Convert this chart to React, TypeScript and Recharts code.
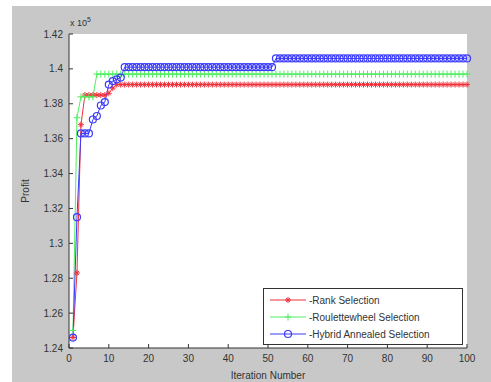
import React from "react"
import { LineChart, Line, XAxis, YAxis, CartesianGrid } from "recharts"

// values shown in units of 10^5
const rankSelection = [
  1.246, 1.283, 1.368, 1.385, 1.385, 1.385, 1.385, 1.385, 1.385, 1.386,
  1.389, 1.391, 1.391, 1.391, 1.391, 1.391, 1.391, 1.391, 1.391, 1.391,
  1.391, 1.391, 1.391, 1.391, 1.391, 1.391, 1.391, 1.391, 1.391, 1.391,
  1.391, 1.391, 1.391, 1.391, 1.391, 1.391, 1.391, 1.391, 1.391, 1.391,
  1.391, 1.391, 1.391, 1.391, 1.391, 1.391, 1.391, 1.391, 1.391, 1.391,
  1.391, 1.391, 1.391, 1.391, 1.391, 1.391, 1.391, 1.391, 1.391, 1.391,
  1.391, 1.391, 1.391, 1.391, 1.391, 1.391, 1.391, 1.391, 1.391, 1.391,
  1.391, 1.391, 1.391, 1.391, 1.391, 1.391, 1.391, 1.391, 1.391, 1.391,
  1.391, 1.391, 1.391, 1.391, 1.391, 1.391, 1.391, 1.391, 1.391, 1.391,
  1.391, 1.391, 1.391, 1.391, 1.391, 1.391, 1.391, 1.391, 1.391, 1.391,
]

const rouletteSelection = [
  1.250, 1.372, 1.384, 1.384, 1.384, 1.384, 1.397, 1.397, 1.397, 1.397,
  1.397, 1.397, 1.397, 1.397, 1.397, 1.397, 1.397, 1.397, 1.397, 1.397,
  1.397, 1.397, 1.397, 1.397, 1.397, 1.397, 1.397, 1.397, 1.397, 1.397,
  1.397, 1.397, 1.397, 1.397, 1.397, 1.397, 1.397, 1.397, 1.397, 1.397,
  1.397, 1.397, 1.397, 1.397, 1.397, 1.397, 1.397, 1.397, 1.397, 1.397,
  1.397, 1.397, 1.397, 1.397, 1.397, 1.397, 1.397, 1.397, 1.397, 1.397,
  1.397, 1.397, 1.397, 1.397, 1.397, 1.397, 1.397, 1.397, 1.397, 1.397,
  1.397, 1.397, 1.397, 1.397, 1.397, 1.397, 1.397, 1.397, 1.397, 1.397,
  1.397, 1.397, 1.397, 1.397, 1.397, 1.397, 1.397, 1.397, 1.397, 1.397,
  1.397, 1.397, 1.397, 1.397, 1.397, 1.397, 1.397, 1.397, 1.397, 1.397,
]

const hybridSelection = [
  1.246, 1.315, 1.363, 1.363, 1.363, 1.371, 1.373, 1.379, 1.381, 1.391,
  1.393, 1.394, 1.395, 1.401, 1.401, 1.401, 1.401, 1.401, 1.401, 1.401,
  1.401, 1.401, 1.401, 1.401, 1.401, 1.401, 1.401, 1.401, 1.401, 1.401,
  1.401, 1.401, 1.401, 1.401, 1.401, 1.401, 1.401, 1.401, 1.401, 1.401,
  1.401, 1.401, 1.401, 1.401, 1.401, 1.401, 1.401, 1.401, 1.401, 1.401,
  1.401, 1.406, 1.406, 1.406, 1.406, 1.406, 1.406, 1.406, 1.406, 1.406,
  1.406, 1.406, 1.406, 1.406, 1.406, 1.406, 1.406, 1.406, 1.406, 1.406,
  1.406, 1.406, 1.406, 1.406, 1.406, 1.406, 1.406, 1.406, 1.406, 1.406,
  1.406, 1.406, 1.406, 1.406, 1.406, 1.406, 1.406, 1.406, 1.406, 1.406,
  1.406, 1.406, 1.406, 1.406, 1.406, 1.406, 1.406, 1.406, 1.406, 1.406,
]

const xTicks = [0, 10, 20, 30, 40, 50, 60, 70, 80, 90, 100]
const yTicks = [1.24, 1.26, 1.28, 1.3, 1.32, 1.34, 1.36, 1.38, 1.4, 1.42]

const RED = "#f0303a"
const GREEN = "#50ee60"
const BLUE = "#3a3aff"
const AXIS = "#333"
const FONT = "'Liberation Sans', Arial, sans-serif"

const data = rankSelection.map((v, i) => ({
  iter: i + 1,
  rank: v,
  roulette: rouletteSelection[i],
  hybrid: hybridSelection[i],
}))

const StarDot = (props: any) => {
  const { cx, cy, index } = props
  if (cx == null || cy == null) return <g key={index} />
  return (
    <g key={index} stroke={RED} strokeWidth={1}>
      <line x1={cx - 3} y1={cy} x2={cx + 3} y2={cy} />
      <line x1={cx} y1={cy - 3} x2={cx} y2={cy + 3} />
      <line x1={cx - 2} y1={cy - 2} x2={cx + 2} y2={cy + 2} />
      <line x1={cx - 2} y1={cy + 2} x2={cx + 2} y2={cy - 2} />
    </g>
  )
}

const PlusDot = (props: any) => {
  const { cx, cy, index } = props
  if (cx == null || cy == null) return <g key={index} />
  return (
    <g key={index} stroke={GREEN} strokeWidth={1}>
      <line x1={cx - 3.5} y1={cy} x2={cx + 3.5} y2={cy} />
      <line x1={cx} y1={cy - 3.5} x2={cx} y2={cy + 3.5} />
    </g>
  )
}

const CircleDot = (props: any) => {
  const { cx, cy, index } = props
  if (cx == null || cy == null) return <g key={index} />
  return <circle key={index} cx={cx} cy={cy} r={3.5} fill="none" stroke={BLUE} strokeWidth={1.2} />
}

const fmtY = (v: number) => String(Number(v.toFixed(2)))

const legendItems = [
  { label: "-Rank Selection", color: RED, marker: "star" },
  { label: "-Roulettewheel Selection", color: GREEN, marker: "plus" },
  { label: "-Hybrid Annealed Selection", color: BLUE, marker: "circle" },
]

function LegendBox() {
  return (
    <div
      style={{
        position: "absolute",
        left: 263,
        top: 288,
        width: 198,
        height: 55,
        background: "#fff",
        border: `1px solid ${AXIS}`,
        fontFamily: FONT,
        fontSize: 10,
        color: "#333",
      }}
    >
      {legendItems.map((it, i) => (
        <div key={it.label} style={{ position: "absolute", left: 6, top: 3 + i * 17, height: 16, display: "flex", alignItems: "center" }}>
          <svg width={36} height={16}>
            <line x1={0} y1={8} x2={36} y2={8} stroke={it.color} strokeWidth={1} />
            {it.marker === "star" && <StarDot cx={18} cy={8} index={0} />}
            {it.marker === "plus" && <PlusDot cx={18} cy={8} index={0} />}
            {it.marker === "circle" && <CircleDot cx={18} cy={8} index={0} />}
          </svg>
          <span style={{ marginLeft: 3 }}>{it.label}</span>
        </div>
      ))}
    </div>
  )
}

export default function App() {
  return (
    <div style={{ position: "absolute", left: 0, top: 0, width: 491, height: 382, background: "#fff", overflow: "hidden" }}>
      <div style={{ position: "absolute", left: 12, top: 6, width: 479, height: 376, background: "#c8c8c8" }} />
      <div style={{ position: "absolute", left: 0, top: 0 }}>
        <LineChart
          width={491}
          height={382}
          data={data}
          margin={{ top: 34, right: 24, bottom: 0, left: 12 }}
          style={{ fontFamily: FONT }}
        >
          <CartesianGrid fill="#fff" horizontal={false} vertical={false} />
          <XAxis
            dataKey="iter"
            type="number"
            domain={[0, 100]}
            ticks={xTicks}
            height={34}
            tickSize={-4}
            tickMargin={11}
            stroke={AXIS}
            tick={{ fontSize: 10, fill: "#333" }}
            label={{ value: "Iteration Number", position: "insideBottom", offset: 3, fontSize: 10, fill: "#333" }}
          />
          <XAxis
            xAxisId="top"
            orientation="top"
            type="number"
            domain={[0, 100]}
            ticks={xTicks}
            height={0}
            tickSize={-4}
            stroke={AXIS}
            tick={() => <g />}
          />
          <YAxis
            type="number"
            domain={[1.24, 1.42]}
            ticks={yTicks}
            width={57}
            tickSize={-4}
            tickMargin={10}
            stroke={AXIS}
            tickFormatter={fmtY}
            tick={{ fontSize: 10, fill: "#333" }}
            label={({ viewBox }: any) => (
              <g fill="#333" fontSize={10}>
                <text x={viewBox.x + 13} y={viewBox.y + viewBox.height / 2} textAnchor="middle" transform={`rotate(-90 ${viewBox.x + 13} ${viewBox.y + viewBox.height / 2})`} dy={4}>
                  Profit
                </text>
                <text x={viewBox.x + viewBox.width + 1} y={viewBox.y - 8} fontSize={9}>
                  x 10
                  <tspan dy={-4} fontSize={7}>5</tspan>
                </text>
              </g>
            )}
          />
          <YAxis
            yAxisId="right"
            orientation="right"
            type="number"
            domain={[1.24, 1.42]}
            ticks={yTicks}
            width={0}
            tickSize={-4}
            stroke={AXIS}
            tick={() => <g />}
          />
          <Line
            type="linear"
            dataKey="rank"
            stroke={RED}
            strokeWidth={1}
            dot={StarDot}
            activeDot={false}
            isAnimationActive={false}
          />
          <Line
            type="linear"
            dataKey="roulette"
            stroke={GREEN}
            strokeWidth={1}
            dot={PlusDot}
            activeDot={false}
            isAnimationActive={false}
          />
          <Line
            type="linear"
            dataKey="hybrid"
            stroke={BLUE}
            strokeWidth={1}
            dot={CircleDot}
            activeDot={false}
            isAnimationActive={false}
          />
        </LineChart>
      </div>
      <LegendBox />
    </div>
  )
}
